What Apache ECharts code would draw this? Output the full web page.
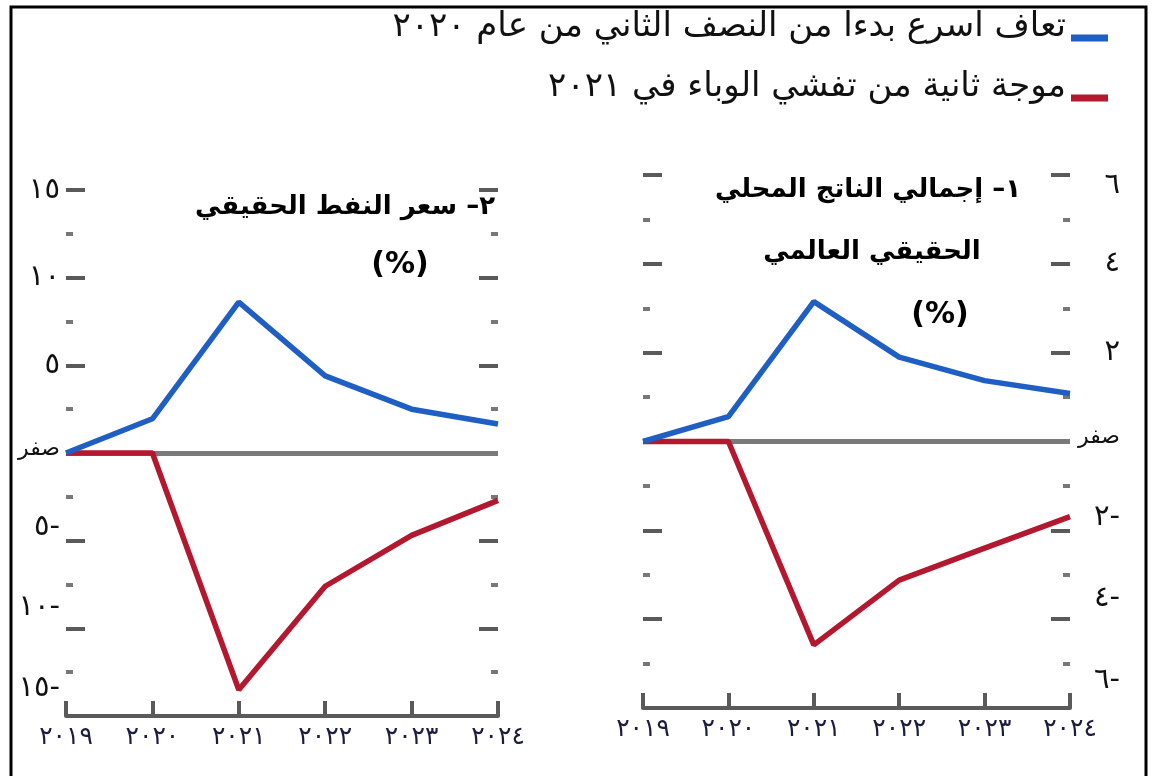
<!DOCTYPE html>
<html lang="ar">
<head>
<meta charset="UTF-8"/>
<title>chart</title>
<script src="https://cdn.jsdelivr.net/npm/echarts@6/dist/echarts.min.js"></script>
<style>
  html, body { margin: 0; padding: 0; background: #fff; }
  #main { width: 1153px; height: 776px; }
</style>
</head>
<body>
<div id="main"></div>
<script>
// السنوات
var years = ['٢٠١٩', '٢٠٢٠', '٢٠٢١', '٢٠٢٢', '٢٠٢٣', '٢٠٢٤'];

// ١- إجمالي الناتج المحلي الحقيقي العالمي
var gdpFast = [0, 0.56, 3.15, 1.9, 1.37, 1.08];
var gdpWave = [0, 0, -4.58, -3.12, -2.4, -1.69];
var gdpTicks = [-6, -4, -2, 0, 2, 4, 6];
var gdpTickLabels = ['٦-', '٤-', '٢-', 'صفر', '٢', '٤', '٦'];

// ٢- سعر النفط الحقيقي
var oilFast = [0, 1.95, 8.6, 4.4, 2.5, 1.65];
var oilWave = [0, 0, -13.5, -7.6, -4.7, -2.7];
var oilTicks = [-15, -10, -5, 0, 5, 10, 15];
var oilTickLabels = ['١٥-', '١٠-', '٥-', 'صفر', '٥', '١٠', '١٥'];

var nameFast = 'تعاف اسرع بدءا من النصف الثاني من عام ٢٠٢٠';
var nameWave = 'موجة ثانية من تفشي الوباء في ٢٠٢١';

var blue = '#1f5fc4';
var red = '#b3182f';
var tickGray = '#5a5a5a';
var font = 'DejaVu Sans';

// negative labels sit a bit above their ticks in the original, zero is written as a word
function tickFormatter(ticks, labels) {
    return function (v) {
        var i = ticks.indexOf(v);
        if (i < 0) return '';
        var s = labels[i];
        if (i === 0) return '{n3|' + s + '}';
        if (i === 1) return '{n2|' + s + '}';
        if (i === 2) return '{n1|' + s + '}';
        if (i === 3) return '{z|' + s + '}';
        if (i === ticks.length - 1) return '{t|' + s + '}';
        return s;
    };
}
function labelRich(topShift) {
    return {
        n1: { padding: [0, 0, 26, 0], fontSize: 29, fontFamily: font, color: '#111' },
        n2: { padding: [0, 0, 42, 0], fontSize: 29, fontFamily: font, color: '#111' },
        n3: { padding: [0, 0, 56, 0], fontSize: 29, fontFamily: font, color: '#111' },
        z: { padding: [0, 0, 8, 0], fontSize: 22, fontFamily: font, color: '#111' },
        t: { padding: [topShift, 0, 0, 0], fontSize: 29, fontFamily: font, color: '#111' }
    };
}

function yAxis(gridIndex, pos, min, max, step, ticks, labels, showLabel, margin, topShift) {
    return {
        type: 'value', gridIndex: gridIndex, position: pos,
        min: min, max: max, interval: step,
        axisLine: { show: false },
        splitLine: { show: false },
        axisTick: { show: true, inside: true, length: 19, lineStyle: { color: tickGray, width: 4 } },
        minorTick: { show: true, splitNumber: 2, length: 7, lineStyle: { color: '#777', width: 4 } },
        axisLabel: {
            show: showLabel, margin: margin, align: 'right',
            fontSize: 29, fontFamily: font, color: '#111',
            formatter: tickFormatter(ticks, labels), rich: labelRich(topShift || 0)
        }
    };
}

function xAxis(gridIndex) {
    return {
        type: 'category', gridIndex: gridIndex, data: years, boundaryGap: false,
        axisLine: { onZero: false, lineStyle: { color: tickGray, width: 4 } },
        axisTick: { inside: true, length: 15, lineStyle: { color: tickGray, width: 4 } },
        axisLabel: { margin: 9, fontSize: 25, fontFamily: font, color: '#1c1c40' },
        splitLine: { show: false }
    };
}

function line(name, data, color, idx, z, zeroLine) {
    var s = {
        name: name, type: 'line', data: data,
        xAxisIndex: idx, yAxisIndex: idx * 2,
        symbol: 'none', z: z,
        lineStyle: { color: color, width: 5.5 },
        itemStyle: { color: color }
    };
    if (zeroLine) {
        s.markLine = {
            silent: true, symbol: 'none', z: 1,
            label: { show: false },
            lineStyle: { color: '#7a7a7a', width: 5, type: 'solid' },
            data: [{ yAxis: 0 }]
        };
    }
    return s;
}

var chart = echarts.init(document.getElementById('main'));
chart.setOption({
    animation: false,
    backgroundColor: '#fff',
    grid: [
        { left: 66, top: 190, width: 432, height: 526 },
        { left: 643, top: 175, width: 427, height: 533 }
    ],
    xAxis: [xAxis(0), xAxis(1)],
    yAxis: [
        yAxis(0, 'left', -15, 15, 5, oilTicks, oilTickLabels, true, 6, 0),
        yAxis(0, 'right', -15, 15, 5, oilTicks, oilTickLabels, false, 0, 0),
        yAxis(1, 'left', -6, 6, 2, gdpTicks, gdpTickLabels, false, 0, 0),
        yAxis(1, 'right', -6, 6, 2, gdpTicks, gdpTickLabels, true, 50, 20)
    ],
    legend: {
        orient: 'vertical', right: 40, top: 5, align: 'right',
        itemWidth: 37, itemHeight: 7, itemGap: 26,
        icon: 'rect',
        data: [nameFast, nameWave],
        formatter: function (name) { return '{a|' + name + '}'; },
        textStyle: {
            fontSize: 34, fontFamily: font, color: '#111',
            rich: { a: { fontSize: 34, fontFamily: font, color: '#111', padding: [0, 0, 22, 0] } }
        }
    },
    graphic: [
        { type: 'polyline', shape: { points: [[11, 776], [11, 7], [1146, 7], [1146, 776]] },
          style: { stroke: '#000', lineWidth: 3, fill: null } },
        { type: 'text', x: 495, y: 207,
          style: { text: '٢– سعر النفط الحقيقي', align: 'right', verticalAlign: 'middle',
                   font: 'bold 26px ' + font, fill: '#000' } },
        { type: 'text', x: 400, y: 265,
          style: { text: '(%)', align: 'center', verticalAlign: 'middle',
                   font: 'bold 30px ' + font, fill: '#000' } },
        { type: 'text', x: 868, y: 190,
          style: { text: '١– إجمالي الناتج المحلي', align: 'center', verticalAlign: 'middle',
                   font: 'bold 26px ' + font, fill: '#000' } },
        { type: 'text', x: 872, y: 252,
          style: { text: 'الحقيقي العالمي', align: 'center', verticalAlign: 'middle',
                   font: 'bold 26px ' + font, fill: '#000' } },
        { type: 'text', x: 940, y: 315,
          style: { text: '(%)', align: 'center', verticalAlign: 'middle',
                   font: 'bold 30px ' + font, fill: '#000' } }
    ],
    series: [
        line(nameWave, oilWave, red, 0, 3, true),
        line(nameFast, oilFast, blue, 0, 4, false),
        line(nameWave, gdpWave, red, 1, 3, true),
        line(nameFast, gdpFast, blue, 1, 4, false)
    ]
});
</script>
</body>
</html>
